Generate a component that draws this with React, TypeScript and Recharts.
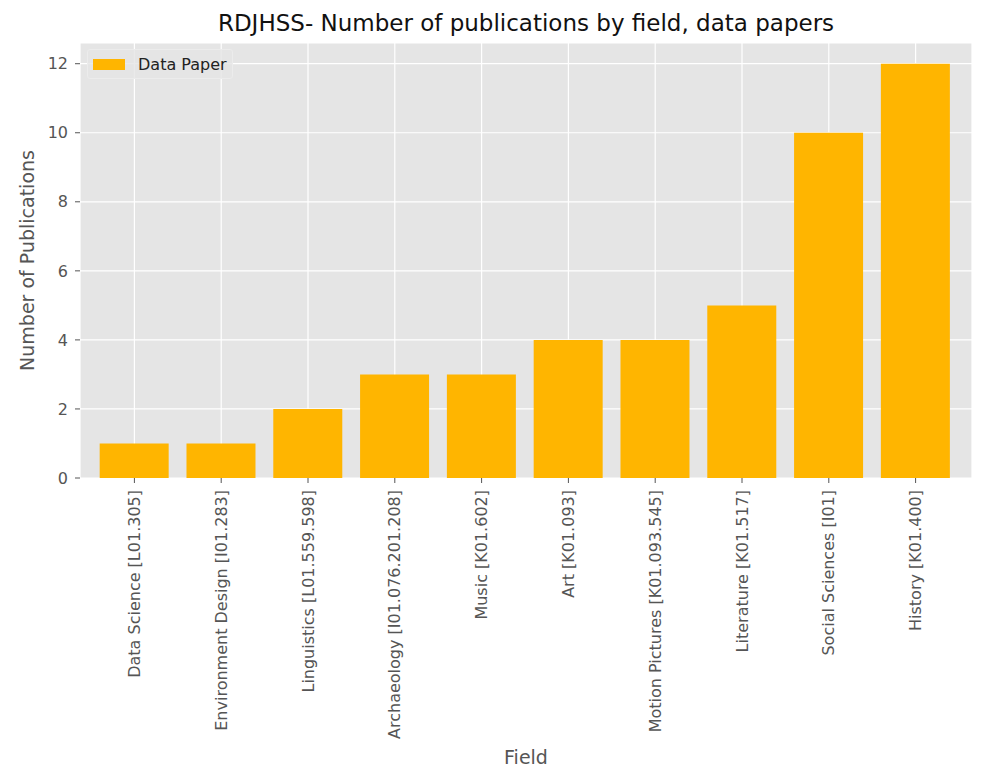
import React from 'react';
import { BarChart, Bar, XAxis, YAxis, CartesianGrid, Label } from 'recharts';

const fields = [
  'Data Science [L01.305]',
  'Environment Design [I01.283]',
  'Linguistics [L01.559.598]',
  'Archaeology [I01.076.201.208]',
  'Music [K01.602]',
  'Art [K01.093]',
  'Motion Pictures [K01.093.545]',
  'Literature [K01.517]',
  'Social Sciences [I01]',
  'History [K01.400]',
];
const dataPaper = [1, 1, 2, 3, 3, 4, 4, 5, 10, 12];
const yTicks = [0, 2, 4, 6, 8, 10, 12];

const data = fields.map((f, i) => ({ field: f, dataPaper: dataPaper[i] }));

const FONT = '"DejaVu Sans", sans-serif';
const BAR_COLOR = '#FFB500';

const XTick = (props: any) => {
  const { x, y, payload } = props;
  return (
    <text
      x={x}
      y={y}
      transform={`rotate(-90, ${x}, ${y})`}
      textAnchor="end"
      dy="0.35em"
      fill="#555555"
      fontSize={16}
      fontFamily={FONT}
    >
      {payload.value}
    </text>
  );
};

export default function App() {
  return (
    <div style={{ position: 'absolute', left: 0, top: 0, width: 982, height: 770, background: '#fff' }}>
      <div
        style={{
          position: 'absolute',
          left: 80,
          width: 892,
          top: 9,
          textAlign: 'center',
          fontFamily: FONT,
          fontSize: 23,
          lineHeight: '28px',
          color: '#111',
        }}
      >
        RDJHSS- Number of publications by field, data papers
      </div>
      <BarChart
        width={982}
        height={770}
        data={data}
        margin={{ top: 43, right: 10, left: 0, bottom: 0 }}
        barCategoryGap="10%"
      >
        <CartesianGrid fill="#E5E5E5" stroke="#ffffff" strokeWidth={1.2} />
        <XAxis
          dataKey="field"
          height={292}
          interval={0}
          axisLine={false}
          tickLine={{ stroke: '#555555' }}
          tickSize={5}
          tickMargin={7}
          padding={{ left: 11, right: 13 }}
          tick={<XTick />}
        >
          <Label
            value="Field"
            position="insideBottom"
            offset={6}
            fill="#555555"
            fontSize={19}
            fontFamily={FONT}
          />
        </XAxis>
        <YAxis
          width={80}
          domain={[0, 12.6]}
          ticks={yTicks}
          axisLine={false}
          tickLine={{ stroke: '#555555' }}
          tickSize={5}
          tickMargin={7}
          tick={{ fill: '#555555', fontSize: 16, fontFamily: FONT }}
        >
          <Label
            value="Number of Publications"
            angle={-90}
            position="insideLeft"
            offset={27}
            style={{ textAnchor: 'middle' }}
            fill="#555555"
            fontSize={19}
            fontFamily={FONT}
          />
        </YAxis>
        <Bar dataKey="dataPaper" name="Data Paper" fill={BAR_COLOR} isAnimationActive={false} />
      </BarChart>
      <div
        style={{
          position: 'absolute',
          left: 87,
          top: 49,
          display: 'flex',
          alignItems: 'center',
          width: 146,
          height: 30,
          boxSizing: 'border-box',
          background: 'rgba(229,229,229,0.8)',
          border: '1px solid #ececec',
          borderRadius: 3,
          fontFamily: FONT,
          fontSize: 16,
          color: '#222',
        }}
      >
        <div style={{ width: 32, height: 11, background: BAR_COLOR, marginLeft: 5, marginRight: 13 }} />
        <span>Data Paper</span>
      </div>
    </div>
  );
}
